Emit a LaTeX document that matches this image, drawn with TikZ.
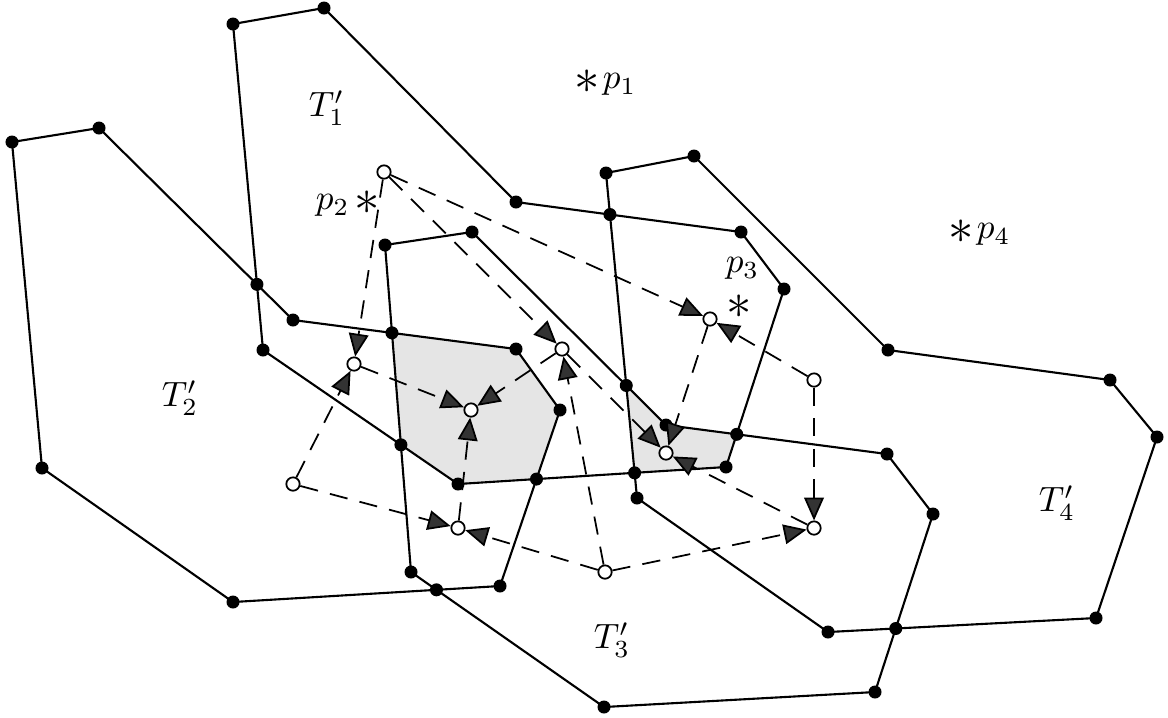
\documentclass[tikz,border=0pt]{standalone}
\usetikzlibrary{positioning, arrows.meta}

\begin{document}
\begin{tikzpicture}[x=0.01cm, y=-0.01cm,
    >={Triangle[length=6.5pt, width=5.6pt, fill=black!80]},
    poly/.style={line width=0.6pt, line join=round},
    region/.style={fill=black!10},
    hub/.style={circle, draw, fill=white, inner sep=0pt,
                minimum size=3.8pt, line width=0.5pt},
    flow/.style={->, line width=0.5pt, dash pattern=on 5.2pt off 3.5pt},
    site/.style={inner sep=0pt}]
  \useasboundingbox (0,0) rectangle (1168,717);
  % corners of the four polygons
  \coordinate (a1) at (233,24);  \coordinate (a2) at (324,8);
  \coordinate (a3) at (516,202); \coordinate (a4) at (741,232);
  \coordinate (a5) at (784,289); \coordinate (a6) at (726,467);
  \coordinate (a7) at (458,484); \coordinate (a8) at (263,350);
  \coordinate (b1) at (12,142);  \coordinate (b2) at (99,128);
  \coordinate (b3) at (293,320); \coordinate (b4) at (516,349);
  \coordinate (b5) at (560,410); \coordinate (b6) at (500,586);
  \coordinate (b7) at (233,602); \coordinate (b8) at (42,468);
  \coordinate (c1) at (385,245); \coordinate (c2) at (472,232);
  \coordinate (c3) at (666,425); \coordinate (c4) at (887,454);
  \coordinate (c5) at (933,514); \coordinate (c6) at (875,692);
  \coordinate (c7) at (604,707); \coordinate (c8) at (411,572);
  \coordinate (d1) at (606,173); \coordinate (d2) at (694,156);
  \coordinate (d3) at (888,350); \coordinate (d4) at (1110,380);
  \coordinate (d5) at (1157,437);\coordinate (d6) at (1096,618);
  \coordinate (d7) at (828,632); \coordinate (d8) at (637,498);
  % crossings
  \coordinate (x1) at (intersection of a1--a8 and b2--b3);
  \coordinate (x2) at (intersection of a3--a4 and d1--d8);
  \coordinate (x3) at (intersection of a5--a6 and c3--c4);
  \coordinate (x4) at (intersection of a6--a7 and d1--d8);
  \coordinate (x5) at (intersection of a6--a7 and b5--b6);
  \coordinate (x6) at (intersection of a7--a8 and c1--c8);
  \coordinate (x7) at (intersection of b3--b4 and c1--c8);
  \coordinate (x8) at (intersection of b6--b7 and c7--c8);
  \coordinate (x9) at (intersection of c2--c3 and d1--d8);
  \coordinate (x10) at (intersection of c5--c6 and d6--d7);

  \fill[region] (x7) -- (b4) -- (b5) -- (x5) -- (a7) -- (x6) -- cycle;
  \fill[region] (x9) -- (c3) -- (x3) -- (a6) -- (x4) -- cycle;

  \draw[poly] (a1) -- (a2) -- (a3) -- (a4) -- (a5) -- (a6) -- (a7) -- (a8) -- cycle;
  \draw[poly] (b1) -- (b2) -- (b3) -- (b4) -- (b5) -- (b6) -- (b7) -- (b8) -- cycle;
  \draw[poly] (c1) -- (c2) -- (c3) -- (c4) -- (c5) -- (c6) -- (c7) -- (c8) -- cycle;
  \draw[poly] (d1) -- (d2) -- (d3) -- (d4) -- (d5) -- (d6) -- (d7) -- (d8) -- cycle;

  \foreach \p in {a,b,c,d}
    \foreach \i in {1,...,8}
      \fill (\p\i) circle (1.85pt);
  \foreach \i in {1,...,10}
    \fill (x\i) circle (1.85pt);

  \node (t1) at (327,108) {$T'_1$};
  \node (t2) at (180,398) {$T'_2$};
  \node (t3) at (612,640) {$T'_3$};
  \node (t4) at (1057,503) {$T'_4$};

  \node[site, font=\Large] (p1) at (587,82) {$\ast$};
  \node[site, right=0.5pt of p1.base east, anchor=base west, yshift=1.4pt] {$p_1$};
  \node[site, font=\Large] (p2) at (367,203) {$\ast$};
  \node[site, left=1pt of p2.base west, anchor=base east, yshift=1.4pt] {$p_2$};
  \node[site, font=\Large] (p3) at (739,307) {$\ast$};
  \node[site, above=4pt of p3, xshift=1pt] {$p_3$};
  \node[site, font=\Large] (p4) at (961,232) {$\ast$};
  \node[site, right=0.5pt of p4.base east, anchor=base west, yshift=1.4pt] {$p_4$};

  % dashed graph
  \node[hub] (v1) at (384,172) {};
  \node[hub] (v2) at (354,364) {};
  \node[hub] (v3) at (293,484) {};
  \node[hub] (v4) at (471,410) {};
  \node[hub] (v5) at (562,349) {};
  \node[hub] (v6) at (458,528) {};
  \node[hub] (v7) at (605,572) {};
  \node[hub] (v8) at (710,319) {};
  \node[hub] (v9) at (814,380) {};
  \node[hub] (v10) at (666,453) {};
  \node[hub] (v11) at (814,528) {};
  \foreach \s/\t in {v1/v2, v3/v2, v1/v5, v1/v8, v2/v4, v5/v4, v6/v4,
                     v3/v6, v7/v6, v7/v5, v7/v11, v9/v11, v9/v8,
                     v8/v10, v11/v10, v5/v10}
    \draw[flow] (\s) -- (\t);
\end{tikzpicture}
\end{document}
